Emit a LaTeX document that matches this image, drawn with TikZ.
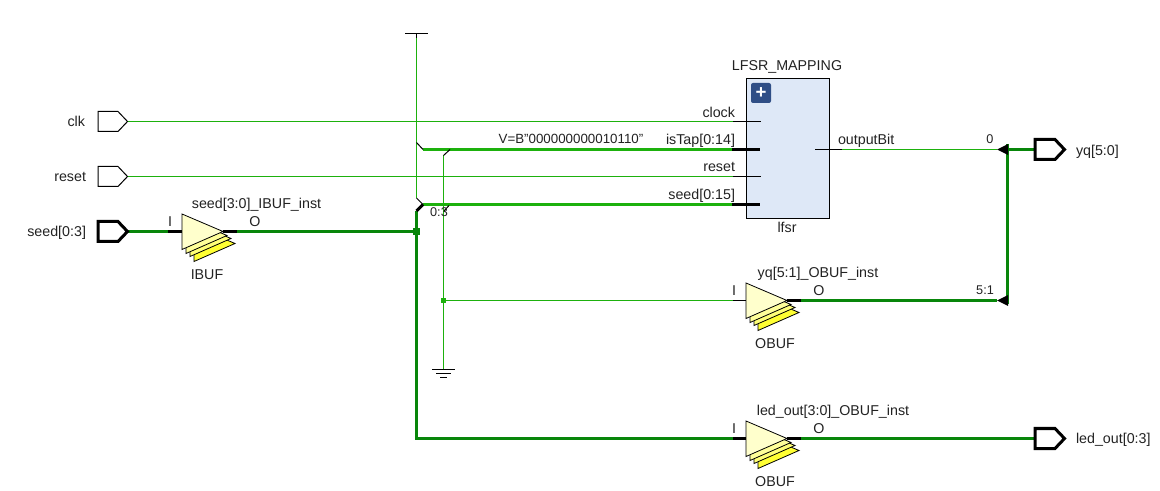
\documentclass[tikz,border=0pt]{standalone}
\usepackage{fontspec}
\setmainfont{Liberation Sans}
\definecolor{wlight}{HTML}{1DB10D}
\definecolor{wdark}{HTML}{08860A}
\definecolor{blockfill}{HTML}{DEE8F7}
\definecolor{btn}{HTML}{2F4E86}
\definecolor{bufa}{HTML}{FFFFCC}
\definecolor{bufb}{HTML}{FFFF99}
\definecolor{bufb2}{HTML}{FFFF77}
\definecolor{bufc}{HTML}{FFFF33}
\definecolor{txt}{HTML}{222222}
\tikzset{
  x=0.75pt,y=-0.75pt,
  lbl/.style={font=\fontsize{10.7}{11}\selectfont,text=txt,inner sep=0pt,outer sep=0pt,text height=9.5pt,text depth=1.5pt},
  lblV/.style={lbl,font=\fontsize{10}{11}\selectfont},
  lblS/.style={lbl,font=\fontsize{9.5}{10}\selectfont},
  thinw/.style={draw=wlight,line width=0.75pt},
  thickw/.style={draw=wlight,line width=2.25pt},
  busw/.style={draw=wdark,line width=2.25pt},
  pinthin/.style={draw=black,line width=0.75pt},
  pinthick/.style={draw=black,line width=2.25pt},
  portthin/.style={draw=black,line width=0.75pt,fill=white},
  portthick/.style={draw=black,line width=2.25pt,fill=white,line join=miter},
  buftri/.style={draw=black,line width=0.6pt,line join=miter},
  tip/.style={fill=black,draw=none},
  dot/.style={inner sep=0pt,minimum size=5.25pt,rectangle},
  dotS/.style={inner sep=0pt,minimum size=3.75pt,rectangle}
}
\newcommand{\portshape}[3]{\draw[#3] (#1,#2-10) -- (#1+20,#2-10) -- (#1+29.5,#2) -- (#1+20,#2+10) -- (#1,#2+10) -- cycle;}
\newcommand{\bufshape}[2]{%
  \fill[bufc,buftri,draw=black] (#1+12,#2-5.5) -- (#1+53,#2+12) -- (#1+12,#2+30) -- cycle;
  \fill[bufb2,buftri,draw=black] (#1+8,#2-10.5) -- (#1+49,#2+7) -- (#1+8,#2+25) -- cycle;
  \fill[bufb,buftri,draw=black] (#1+4,#2-13.5) -- (#1+45,#2+4) -- (#1+4,#2+22) -- cycle;
  \fill[bufa,buftri,draw=black] (#1,#2-17.5) -- (#1+41,#2) -- (#1,#2+18) -- cycle;}
\begin{document}
\begin{tikzpicture}
\useasboundingbox (0,0) rectangle (1160,491);
% named points
\coordinate (clkP) at (127.5,121.5);
\coordinate (resetP) at (127.5,176.5);
\coordinate (seedP) at (127.5,231.5);
\coordinate (ibufI) at (168,231.5);
\coordinate (ibufIb) at (182,231.5);
\coordinate (ibufO) at (223,231.5);
\coordinate (ibufOb) at (237,231.5);
\coordinate (seedJ) at (416.5,231.5);
\coordinate (seedKnee) at (416.5,211);
\coordinate (seedRip) at (423,204.5);
\coordinate (seedStub) at (416.5,198);
\coordinate (ledCorner) at (416.5,438.5);
\coordinate (vccT) at (416.5,33.5);
\coordinate (vccG) at (416.5,38);
\coordinate (tapStub) at (416.5,142.5);
\coordinate (tapRip) at (423,149.5);
\coordinate (gndRip) at (450,149.5);
\coordinate (gndStub) at (443.5,155.5);
\coordinate (gndJ) at (443.5,300.5);
\coordinate (gndG) at (443.5,369.5);
\coordinate (pinClkG) at (733,121.5);
\coordinate (pinClk) at (761,121.5);
\coordinate (pinTapG) at (732,149.5);
\coordinate (pinTap) at (760,149.5);
\coordinate (pinRstG) at (733,176.5);
\coordinate (pinRst) at (761,176.5);
\coordinate (pinSeedG) at (732,204.5);
\coordinate (pinSeed) at (760,204.5);
\coordinate (pinOut) at (815,149.5);
\coordinate (pinOutG) at (842,149.5);
\coordinate (arrA) at (997,149.5);
\coordinate (arrB) at (997,300.5);
\coordinate (busTop) at (1007.5,144);
\coordinate (busBot) at (1007.5,304);
\coordinate (busMid) at (1007.5,149.5);
\coordinate (yqP) at (1034,149.5);
\coordinate (obA) at (733,300.5);
\coordinate (obAb) at (746,300.5);
\coordinate (obAo) at (787,300.5);
\coordinate (obAob) at (801,300.5);
\coordinate (obB) at (733,438.5);
\coordinate (obBb) at (746,438.5);
\coordinate (obBo) at (787,438.5);
\coordinate (obBob) at (801,438.5);
\coordinate (ledP) at (1034,438.5);

% wires
\draw[thinw] (clkP) -- (pinClkG);
\draw[thinw] (resetP) -- (pinRstG);
\draw[thinw] (vccG) -- (seedStub);
\draw[thickw] (tapRip) -- (pinTapG);
\draw[thickw] (seedRip) -- (pinSeedG);
\draw[thinw] (gndStub) -- (gndG);
\draw[thinw] (gndJ) -- (obA);
\draw[busw] (seedP) -- (ibufI);
\draw[busw] (ibufOb) -- (seedJ);
\draw[busw] (seedKnee) -- (ledCorner) -- (obB);
\draw[busw] (obAob) -- (arrB);
\draw[busw] (obBob) -- (ledP);
\draw[busw] (busTop) -- (busBot);
\draw[busw] (busMid) -- (yqP);
\draw[thinw] (pinOutG) -- (arrA);
\node[dot,fill=wdark] (jSeed) at (seedJ) {};
\node[dotS,fill=wlight] (jGnd) at (gndJ) {};

% rippers
\draw[pinthin] (tapStub) -- (tapRip);
\draw[pinthin] (gndStub) -- (gndRip);
\draw[pinthin] (seedStub) -- (seedRip);
\draw[pinthick] (seedKnee) -- (seedRip);
\draw[pinthin] (444,211) -- (449,205.5);

% power symbols
\draw[pinthin] (vccT) -- (vccG);
\draw[pinthin] (405,33.5) -- (428,33.5);
\draw[pinthin] (432,369.5) -- (455,369.5);
\draw[pinthin] (436,373.5) -- (451,373.5);
\draw[pinthin] (440,377.5) -- (447,377.5);

% block
\node[draw=black,line width=0.75pt,fill=blockfill,minimum width=62.25pt,minimum height=105pt,inner sep=0pt] (lfsr) at (788,148.5) {};
\node[fill=btn,rounded corners=1.5pt,minimum size=15pt,inner sep=0pt,text=white,font=\bfseries\fontsize{14}{14}\selectfont] (plus) at (761,93) {+};
\draw[pinthin] (pinClkG) -- (pinClk);
\draw[pinthin] (pinRstG) -- (pinRst);
\draw[pinthick] (pinTapG) -- (pinTap);
\draw[pinthick] (pinSeedG) -- (pinSeed);
\draw[pinthin] (pinOut) -- (pinOutG);

% bus tips
\fill[tip] (arrA) -- (1008,144) -- (1008,155) -- cycle;
\fill[tip] (arrB) -- (1008,295) -- (1008,306) -- cycle;

% ports
\portshape{98}{121.5}{portthin}
\portshape{98}{176.5}{portthin}
\portshape{98}{231.5}{portthick}
\portshape{1035}{149.5}{portthick}
\portshape{1035}{438.5}{portthick}

% buffers
\bufshape{182}{231.5}
\bufshape{746}{300.5}
\bufshape{746}{438.5}
\draw[pinthick] (ibufI) -- (ibufIb);
\draw[pinthick] (ibufO) -- (ibufOb);
\draw[pinthin] (obA) -- (obAb);
\draw[pinthick] (obAo) -- (obAob);
\draw[pinthick] (obB) -- (obBb);
\draw[pinthick] (obBo) -- (obBob);

% labels
\node[lbl,anchor=east] (tClk) at (85,121) {clk};
\node[lbl,anchor=east] (tRst) at (86,176) {reset};
\node[lbl,anchor=east] (tSeed) at (86,231) {seed[0:3]};
\node[lbl,anchor=west] (tYq) at (1076,150) {yq[5:0]};
\node[lbl,anchor=west] (tLed) at (1076,438) {led\_out[0:3]};
\node[lbl] (tIbufN) at (256.5,203) {seed[3:0]\_IBUF\_inst};
\node[lbl] (tII) at (170,221) {I};
\node[lbl] (tIO) at (255,221) {O};
\node[lbl] (tIbuf) at (207,274) {IBUF};
\node[lbl] (tMap) at (787,65) {LFSR\_MAPPING};
\node[lbl] (tLfsr) at (787,227) {lfsr};
\node[lbl,anchor=east] (tPc) at (735,112) {clock};
\node[lbl,anchor=east] (tPt) at (735,139) {isTap[0:14]};
\node[lbl,anchor=east] (tPr) at (735,166) {reset};
\node[lbl,anchor=east] (tPs) at (735,194) {seed[0:15]};
\node[lbl,anchor=west] (tOut) at (838,139) {outputBit};
\node[lblV] (tV) at (571,138) {V=B"000000000010110"};
\node[lblS] (t03) at (439,211.5) {0:3};
\node[lblS] (t0) at (990,138) {0};
\node[lblS] (t51) at (985,289) {5:1};
\node[lbl] (tYqN) at (818,272) {yq[5:1]\_OBUF\_inst};
\node[lbl] (tAI) at (734,290) {I};
\node[lbl] (tAO) at (819,290) {O};
\node[lbl] (tAB) at (775,343) {OBUF};
\node[lbl] (tLedN) at (833,410) {led\_out[3:0]\_OBUF\_inst};
\node[lbl] (tBI) at (734,428) {I};
\node[lbl] (tBO) at (819,428) {O};
\node[lbl] (tBB) at (775,481) {OBUF};
\end{tikzpicture}
\end{document}
